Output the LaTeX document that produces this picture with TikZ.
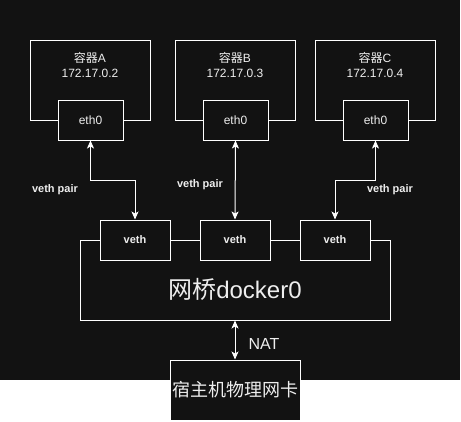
\documentclass[tikz,border=0pt]{standalone}
\usepackage{fontspec}
\setmainfont{Liberation Sans}
\newfontfamily\cjk{Noto Sans CJK SC}
\usetikzlibrary{arrows.meta}
\definecolor{bg}{HTML}{121212}
\definecolor{fg}{HTML}{EEEEEE}
\begin{document}
\begin{tikzpicture}[x=1pt,y=-1pt,
  box/.style={draw=white, fill=bg, line width=1pt, inner sep=0pt},
  txt/.style={text=fg, inner sep=0pt, align=center},
  small/.style={txt, font=\fontsize{12}{15}\selectfont},
  tiny/.style={txt, font=\bfseries\fontsize{11}{13}\selectfont},
  arr/.style={draw=white, line width=1pt,
    {Stealth[length=8pt,width=7pt,inset=2pt]}-{Stealth[length=8pt,width=7pt,inset=2pt]}}]
\useasboundingbox (0,0) rectangle (461,421);
\fill[white] (0,0) rectangle (461,421);
\fill[bg] (0,0) rectangle (460,380);

% containers
\node[box, minimum width=120pt, minimum height=80pt] (ca) at (90,80) {};
\node[box, minimum width=120pt, minimum height=80pt] (cb) at (235,80) {};
\node[box, minimum width=120pt, minimum height=80pt] (cc) at (375,80) {};
\node[small] (ta) at (90,64.5) {{\cjk 容器}A\\172.17.0.2};
\node[small] (tb) at (235,64.5) {{\cjk 容器}B\\172.17.0.3};
\node[small] (tc) at (375,64.5) {{\cjk 容器}C\\172.17.0.4};

% eth0
\node[box, small, minimum width=65pt, minimum height=40pt] (ea) at (90.5,120) {eth0};
\node[box, small, minimum width=65pt, minimum height=40pt] (eb) at (235.5,120) {eth0};
\node[box, small, minimum width=65pt, minimum height=40pt] (ec) at (375.5,120) {eth0};

% bridge
\node[box, minimum width=310pt, minimum height=80pt] (br) at (235,280) {};
\node[txt, font=\fontsize{24}{28}\selectfont] (brl) at (235,289) {{\cjk 网桥}docker0};

% veth
\node[box, tiny, minimum width=70pt, minimum height=40pt] (v1) at (135,240) {veth};
\node[box, tiny, minimum width=70pt, minimum height=40pt] (v2) at (235,240) {veth};
\node[box, tiny, minimum width=70pt, minimum height=40pt] (v3) at (335,240) {veth};

% host nic
\node[box, txt, minimum width=130pt, minimum height=60pt, font=\cjk\fontsize{18}{22}\selectfont] (host) at (235,390) {宿主机物理网卡};

% connectors
\draw[arr] (ea.south) -- ++(0,40) -| (v1.north);
\draw[arr] (eb.south) -- (v2.north);
\draw[arr] (ec.south) -- ++(0,40) -| (v3.north);
\draw[arr] (br.south) -- (host.north);

% labels
\node[tiny] (la) at (55,190) {veth pair};
\node[tiny] (lb) at (200,185) {veth pair};
\node[tiny] (lc) at (390,190) {veth pair};
\node[txt, font=\fontsize{16}{19}\selectfont] (nat) at (264,344) {NAT};
\end{tikzpicture}
\end{document}
